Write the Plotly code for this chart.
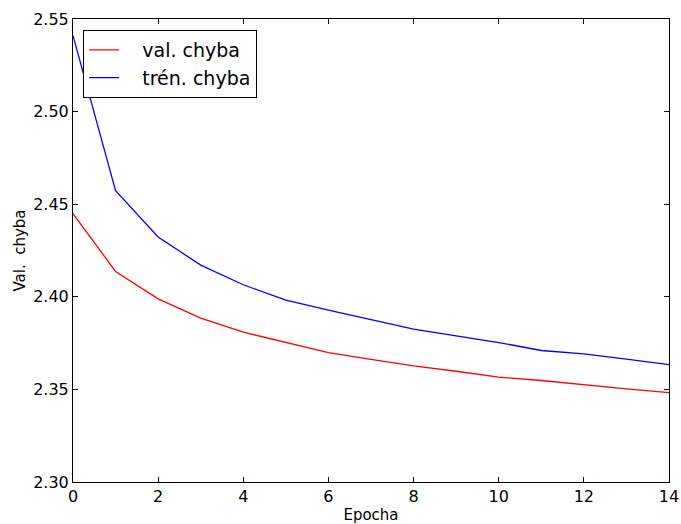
import plotly.graph_objects as go

epochs = list(range(15))
val_err = [2.4449, 2.4137, 2.3989, 2.3885, 2.3809, 2.3753, 2.3699, 2.3662,
           2.3627, 2.3598, 2.3566, 2.3548, 2.3524, 2.3503, 2.3483]
train_err = [2.5410, 2.4573, 2.4323, 2.4171, 2.4065, 2.3982, 2.3928, 2.3876,
             2.3825, 2.3789, 2.3753, 2.3710, 2.3692, 2.3663, 2.3634]
series_names = ["\u00a0\u00a0\u00a0val. chyba", "\u00a0\u00a0\u00a0trén. chyba"]

fig = go.Figure()
fig.add_trace(go.Scatter(x=epochs, y=val_err, mode="lines", name=series_names[0],
                         line=dict(color="#ff0000", width=1.3)))
fig.add_trace(go.Scatter(x=epochs, y=train_err, mode="lines", name=series_names[1],
                         line=dict(color="#0000ff", width=1.3)))

axis_common = dict(showgrid=False, zeroline=False, showline=True, linecolor="black",
                   linewidth=1, mirror="ticks", ticks="inside", ticklen=5,
                   tickcolor="black", tickfont=dict(size=16, color="black"),
                   automargin=False)

fig.update_layout(
    width=681, height=524,
    margin=dict(l=73, r=12, t=19, b=42),
    paper_bgcolor="white", plot_bgcolor="white",
    font=dict(family="DejaVu Sans", color="black"),
    showlegend=True,
    legend=dict(x=0.017, y=0.976, xanchor="left", yanchor="top",
                bordercolor="black", borderwidth=1, bgcolor="white",
                font=dict(size=19), itemwidth=30),
    xaxis=dict(range=[0, 14], tickvals=[0, 2, 4, 6, 8, 10, 12, 14],
               title=dict(text="Epocha", font=dict(size=15), standoff=4),
               **axis_common),
    yaxis=dict(range=[2.30, 2.55], tickvals=[2.30, 2.35, 2.40, 2.45, 2.50, 2.55],
               tickformat=".2f",
               title=dict(text="Val.\u00a0 chyba", font=dict(size=15), standoff=3),
               **axis_common),
)

fig.write_html("out.html", config={"displayModeBar": False},
               post_script="document.body.style.margin='0';")
